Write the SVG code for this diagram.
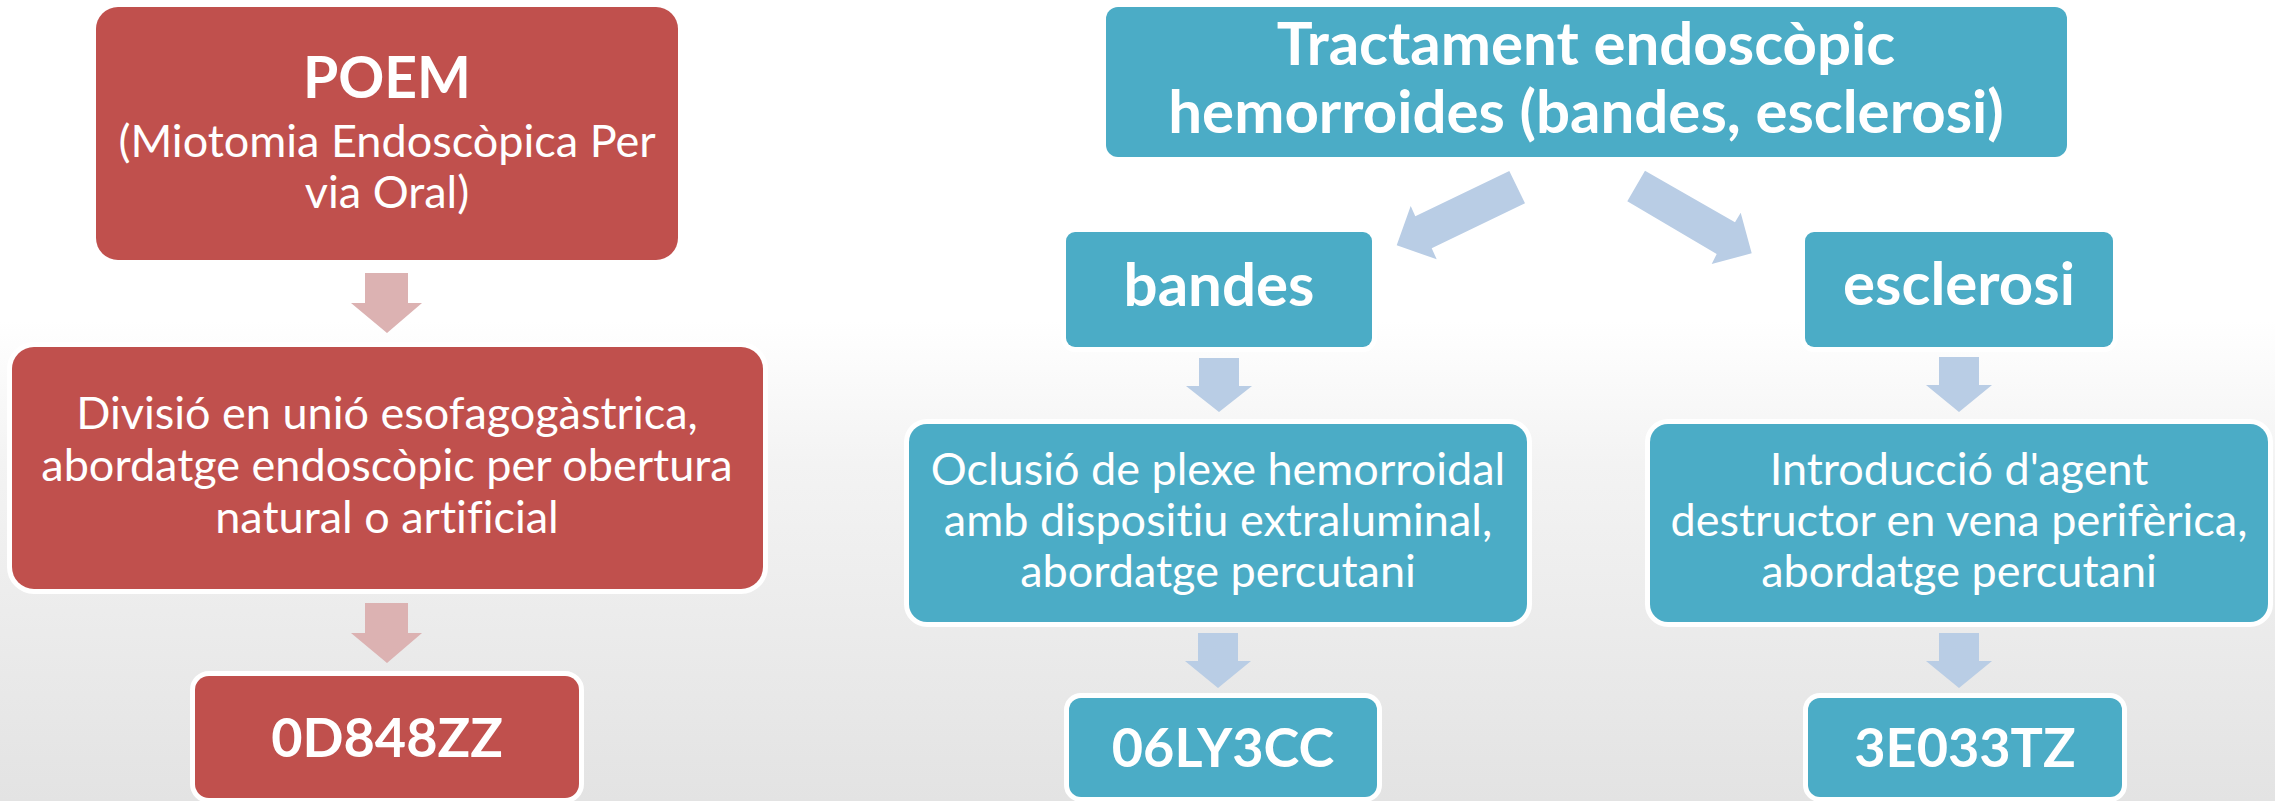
<svg xmlns="http://www.w3.org/2000/svg" width="2275" height="801" viewBox="0 0 2275 801">
  <defs>
    <linearGradient id="bg" x1="0" y1="0" x2="0" y2="1">
      <stop offset="0" stop-color="#ffffff"/>
      <stop offset="0.4" stop-color="#ffffff"/>
      <stop offset="0.58" stop-color="#f3f3f3"/>
      <stop offset="1" stop-color="#e3e3e3"/>
    </linearGradient>
    <style>
      .red { fill: #C0504D; stroke: #ffffff; stroke-width: 10; paint-order: stroke; }
      .blue { fill: #4BACC6; stroke: #ffffff; stroke-width: 10; paint-order: stroke; }
      .ra { fill: #DCB2B2; }
      .ba { fill: #B9CDE5; }
      text { font-family: Lato, "Open Sans", "Liberation Sans", sans-serif; fill: #ffffff; text-anchor: middle; font-variant-ligatures: none; }
      .b { font-weight: bold; font-size: 60px; }
      .p { font-weight: bold; font-size: 57px; }
      .c { font-weight: bold; font-size: 54px; }
      .r { font-weight: normal; font-size: 45px; }
    </style>
  </defs>
  <rect x="0" y="0" width="2275" height="801" fill="url(#bg)"/>

  <g id="connectors">
    <polygon class="ra" points="365,273 408,273 408,303 422,303 387,333 351,303 365,303"/>
    <polygon class="ra" points="365,603 408,603 408,633 422,633 387,663 351,633 365,633"/>
    <polygon class="ba" points="1509.3,171 1525,203.3 1431.7,248.3 1436.7,259.3 1396.7,245.3 1410.7,206 1415.3,216.3"/>
    <polygon class="ba" points="1645,170.7 1735,222.3 1740.7,212.7 1751.7,253.3 1711.7,264 1716.7,254 1627.3,201.3"/>
    <polygon class="ba" points="1199,358 1239,358 1239,386 1252,386 1219,412 1186,386 1199,386"/>
    <polygon class="ba" points="1939,357 1979,357 1979,385 1992,385 1959,412 1926,385 1939,385"/>
    <polygon class="ba" points="1198,633 1238,633 1238,661 1251,661 1218,688 1185,661 1198,661"/>
    <polygon class="ba" points="1939,633 1979,633 1979,661 1992,661 1959,688 1926,661 1939,661"/>
  </g>

  <g id="poem">
    <rect class="red" x="96" y="7" width="582" height="253" rx="22"/>
    <text class="p" x="387" y="98">POEM</text>
    <text class="r" x="387" y="157">(Miotomia Endoscòpica Per</text>
    <text class="r" x="387" y="208">via Oral)</text>
  </g>

  <g id="divisio">
    <rect class="red" x="12" y="347" width="751" height="242" rx="22"/>
    <text class="r" x="387" y="429">Divisió en unió esofagogàstrica,</text>
    <text class="r" x="387" y="481">abordatge endoscòpic per obertura</text>
    <text class="r" x="387" y="533">natural o artificial</text>
  </g>

  <g id="code-0D848ZZ">
    <rect class="red" x="195" y="676" width="384" height="122" rx="14"/>
    <text class="c" x="387" y="757">0D848ZZ</text>
  </g>

  <g id="tractament">
    <rect class="blue" x="1106" y="7" width="961" height="150" rx="12"/>
    <text class="b" x="1586" y="65">Tractament endoscòpic</text>
    <text class="b" x="1586" y="133">hemorroides (bandes, esclerosi)</text>
  </g>

  <g id="bandes">
    <rect class="blue" x="1066" y="232" width="306" height="115" rx="9"/>
    <text class="b" x="1219" y="306">bandes</text>
  </g>

  <g id="esclerosi">
    <rect class="blue" x="1805" y="232" width="308" height="115" rx="9"/>
    <text class="b" x="1959" y="305">esclerosi</text>
  </g>

  <g id="oclusio">
    <rect class="blue" x="909" y="424" width="618" height="198" rx="18"/>
    <text class="r" x="1218" y="485">Oclusió de plexe hemorroidal</text>
    <text class="r" x="1218" y="536">amb dispositiu extraluminal,</text>
    <text class="r" x="1218" y="587">abordatge percutani</text>
  </g>

  <g id="introduccio">
    <rect class="blue" x="1650" y="424" width="618" height="198" rx="18"/>
    <text class="r" x="1959" y="485">Introducció d'agent</text>
    <text class="r" x="1959" y="536">destructor en vena perifèrica,</text>
    <text class="r" x="1959" y="587">abordatge percutani</text>
  </g>

  <g id="code-06LY3CC">
    <rect class="blue" x="1069" y="698" width="308" height="99" rx="12"/>
    <text class="c" x="1223" y="767">06LY3CC</text>
  </g>

  <g id="code-3E033TZ">
    <rect class="blue" x="1808" y="698" width="314" height="99" rx="12"/>
    <text class="c" x="1965" y="767">3E033TZ</text>
  </g>
</svg>
